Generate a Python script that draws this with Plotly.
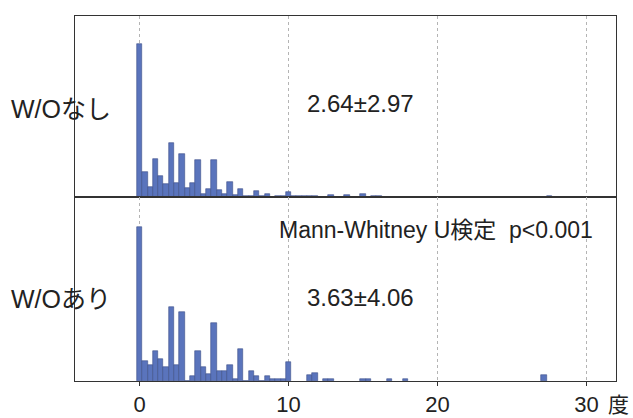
import plotly.graph_objects as go
from plotly.subplots import make_subplots

# Histogram bin width (degrees) and bin indices with relative frequencies (%)
BIN_WIDTH = 10 / 28

without_bins = list(range(0, 31)) + [31, 32, 33, 36, 39, 42, 44, 45, 77]
without_vals = [27.9, 4.6, 1.8, 7.0, 3.9, 2.4, 9.9, 2.6, 7.9, 1.7,
                2.6, 6.8, 0.6, 1.5, 6.8, 1.3, 0.6, 2.8, 0.4, 1.5,
                0.15, 0.15, 1.1, 0.25, 0.5, 0.0, 0.15, 0.15, 0.9, 0.2,
                0.15, 0.2, 0.2, 0.2, 0.4, 0.3, 0.6, 0.2, 0.2, 0.2]

with_bins = list(range(0, 29)) + [32, 33, 35, 36, 42, 43, 47, 50, 76]
with_vals = [22.9, 2.9, 2.4, 4.4, 3.2, 2.0, 11.0, 2.4, 10.2, 0.0,
             0.8, 4.4, 2.0, 1.1, 8.6, 1.5, 1.5, 2.4, 0.3, 4.8,
             0.0, 1.5, 0.8, 0.0, 0.8, 0.3, 0.3, 0.3, 2.8,
             0.9, 1.2, 0.35, 0.35, 0.35, 0.35, 0.35, 0.35, 0.9]

group_labels = ["W/Oなし", "W/Oあり"]
stat_labels = ["2.64±2.97", "3.63±4.06"]
test_label = "Mann-Whitney U検定  p<0.001"
x_ticks = [0, 10, 20, 30]
x_unit = "度"

FONT = "Liberation Sans, Arial, Noto Sans CJK JP"
BAR_FILL = "#5a74bc"
BAR_EDGE = "#3d4f88"
TEXT = "#222222"

fig = make_subplots(rows=2, cols=1, shared_xaxes=True, vertical_spacing=0)

for row, (bins, vals) in enumerate([(without_bins, without_vals),
                                    (with_bins, with_vals)], start=1):
    fig.add_trace(go.Bar(
        x=[b * BIN_WIDTH for b in bins], y=vals, width=BIN_WIDTH,
        marker=dict(color=BAR_FILL, line=dict(color=BAR_EDGE, width=0.6)),
        showlegend=False, hoverinfo="skip"), row=row, col=1)

split = 0.504
fig.update_layout(
    width=633, height=418,
    margin=dict(l=75, r=17, t=16, b=37, autoexpand=False),
    paper_bgcolor="white", plot_bgcolor="white",
    bargap=0, font=dict(family=FONT, color=TEXT),
    yaxis=dict(domain=[split, 1.0], range=[0, 33.0]),
    yaxis2=dict(domain=[0.0, split], range=[0, 27.3]),
)

axis_common = dict(range=[-4.33, 31.98], showline=True, linecolor="#333333",
                   linewidth=1, mirror=True, zeroline=False, automargin=False)
fig.update_xaxes(tickvals=x_ticks, showgrid=True, gridcolor="#b4b4b4",
                 griddash="dot", gridwidth=1, **axis_common)
fig.update_xaxes(showticklabels=False, ticks="", row=1, col=1)
fig.update_xaxes(ticks="outside", ticklen=4, tickcolor="#333333",
                 tickfont=dict(size=22, color=TEXT), ticklabelstandoff=0,
                 row=2, col=1)
fig.update_yaxes(showticklabels=False, showgrid=False, ticks="",
                 showline=True, linecolor="#333333", linewidth=1,
                 mirror=True, zeroline=False, automargin=False)

# Group labels to the left of each panel
for label, yp in zip(group_labels, [0.745, 0.225]):
    fig.add_annotation(text=label, xref="paper", yref="paper",
                       x=-0.122, y=yp, xanchor="left", yanchor="middle",
                       showarrow=False, font=dict(size=25, color=TEXT))

# Mean ± SD inside each panel
for label, yp in zip(stat_labels, [0.759, 0.23]):
    fig.add_annotation(text=label, xref="x", yref="paper",
                       x=14.8, y=yp, xanchor="center", yanchor="middle",
                       showarrow=False, font=dict(size=24, color=TEXT))

fig.add_annotation(text=test_label, xref="x", yref="paper",
                   x=19.9, y=0.414, xanchor="center", yanchor="middle",
                   showarrow=False, font=dict(size=23, color=TEXT))

fig.add_annotation(text=x_unit, xref="paper", yref="paper",
                   x=1.0, y=0, xanchor="left", yanchor="top", yshift=-10,
                   xshift=-10, showarrow=False, font=dict(size=21, color=TEXT))

fig.write_html("out.html")
